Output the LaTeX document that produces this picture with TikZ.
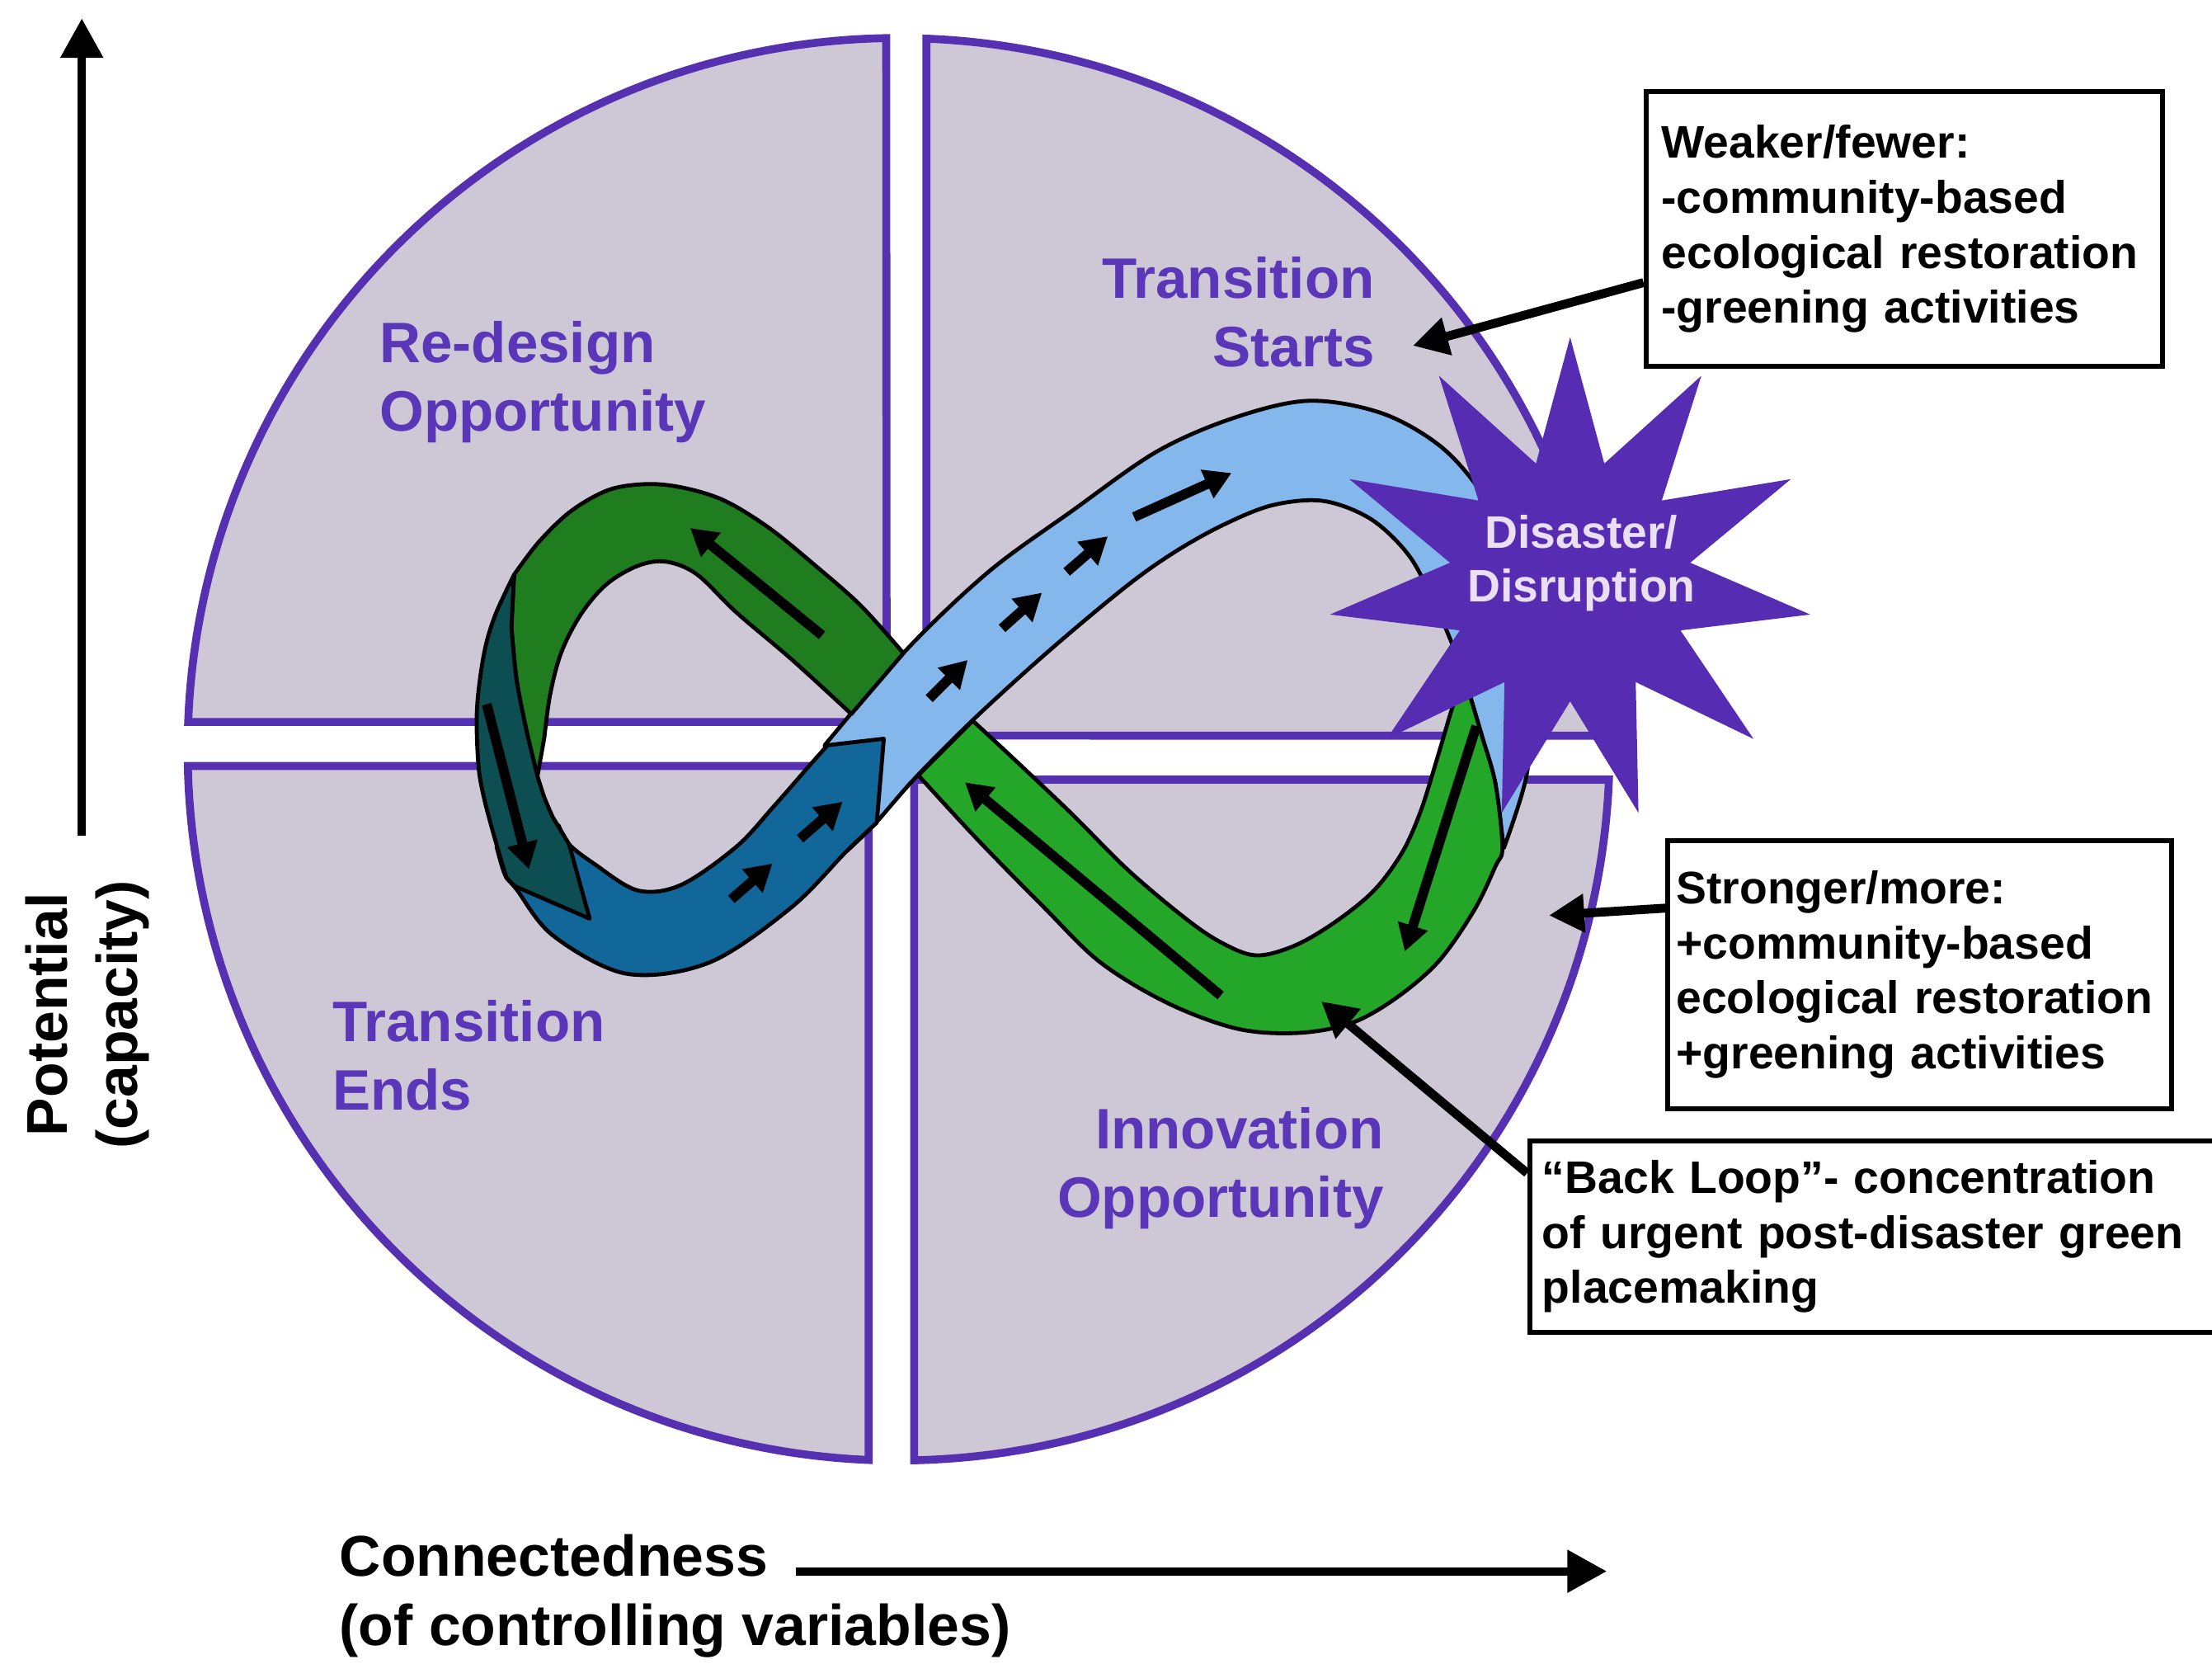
\documentclass[tikz,border=0pt]{standalone}
\usepackage{fontspec}
\setmainfont{Liberation Sans}
\usepackage{tikz}
\usetikzlibrary{arrows.meta}
\usetikzlibrary{shapes.geometric}

\definecolor{quadfill}{HTML}{CEC7D6}
\definecolor{quadline}{HTML}{5530B0}
\definecolor{labelpurple}{HTML}{5A36B8}
\definecolor{starpurple}{HTML}{562CB2}
\definecolor{startext}{HTML}{EADFF5}
\definecolor{darkgreen}{HTML}{1F7D1F}
\definecolor{brightgreen}{HTML}{24A628}
\definecolor{tealband}{HTML}{0C4E52}
\definecolor{midblue}{HTML}{11669A}
\definecolor{lightblue}{HTML}{84B7EC}

\begin{document}
\begin{tikzpicture}[x=0.1mm, y=-0.1mm,
		quadrant/.style={draw=quadline, fill=quadfill, line width=1.6pt},
		quadlabel/.style={text=labelpurple, font=\fontsize{11.5}{13.8}\selectfont\bfseries, inner sep=0pt},
		band/.style={draw=black, line width=0.8pt, line join=round},
		flowarrow/.style={line width=0.7mm, -{Triangle[length=1.9mm, width=2.1mm]}},
		boxtext/.style={draw, line width=1pt, font=\fontsize{9.2}{11.1}\selectfont\bfseries, align=left, anchor=north west, inner ysep=0pt},
		callout/.style={line width=1.8pt, -{Triangle[length=2.5mm, width=2.6mm]}},
		axisarrow/.style={line width=1.7pt, -{Triangle[length=2.8mm, width=2.9mm]}},
		axislabel/.style={font=\fontsize{11.6}{14}\selectfont\bfseries, inner sep=0pt}]
		\useasboundingbox (0,0) rectangle (1568,1179);
		\clip (0,0) rectangle (1568,1179);
		\fill[white] (0,0) rectangle (1568,1179);

		% Quadrants:
		\draw[quadrant] (628.5,511.6) -- (133.4,511.6) arc[start angle=-177.8, end angle=-91.0, radius=504] -- cycle;
		\draw[quadrant] (656.7,521.3) -- (656.7,27.4) arc[start angle=-87.76, end angle=-1.10, radius=504] -- cycle;
		\draw[quadrant] (648,552.5) -- (1140.5,552.5) arc[start angle=2.45, end angle=88.75, radius=504] -- cycle;
		\draw[quadrant] (615.8,542.8) -- (615.8,1034.6) arc[start angle=92.41, end angle=178.66, radius=504] -- cycle;

		\node[quadlabel, align=left, anchor=west] (redesign) at (268.5,271) {Re-design\\Opportunity};
		\node[quadlabel, align=right, anchor=east] (starts) at (975,221) {Transition\\Starts};
		\node[quadlabel, align=left, anchor=west] (ends) at (235,748) {Transition\\Ends};
		\node[quadlabel, align=right, anchor=east] (innovation) at (981.5,828) {Innovation\\Opportunity};

		% Loop band:
		\draw[band, fill=lightblue] plot[smooth, tension=0.55] coordinates {(584.6,528.1) (643,460) (701,405) (760,362) (820,320) (875,296) (928,284) (980,293) (1022,317) (1052,352) (1072,395) (1082,445) (1085,500) (1082,550) (1066,601)}
			-- plot[smooth, tension=0.55] coordinates {(1060,555) (1050,520) (1040,487) (1030,458) (1017,428) (999,394) (972,368) (938,355) (902,358) (867,372) (833,391) (799,415) (745,460) (692,508) (649,551) (620,584) (600,603.3)} -- cycle;
		\draw[band, fill=brightgreen] plot[smooth, tension=0.55] coordinates {(651,549.4) (692,594) (740,643) (780,682) (828,711) (877,729) (920,732) (958,725) (990,707) (1020,681) (1045,645) (1060,614) (1065,600) (1060,555) (1050,520) (1040,486)}
			-- plot[smooth, tension=0.55] coordinates {(1033,492) (1029,503) (1018,540) (1007,575) (994,604) (974,631) (947,653) (918,670) (890,677) (864,667) (838,649) (799,616) (760,577) (721,540) (689.6,510.8)} -- cycle;
		\draw[band, fill=darkgreen] plot[smooth, tension=0.55] coordinates {(640.4,462.9) (610,429) (577,400) (545,374) (514,355) (486,346) (460,343) (432,347) (405,362) (382,384) (364.4,407.3)}
			-- plot[smooth, tension=0.55] coordinates {(362.5,444.3) (366.4,483.3) (374.2,522.3) (381,550)}
			-- plot[smooth, tension=0.55] coordinates {(385.9,522.3) (390,492) (398,462) (412,435) (430,414) (452,401) (472,398) (494,407) (522,434) (562,468) (603.5,506)} -- cycle;
		\draw[band, fill=midblue] plot[smooth, tension=0.55] coordinates {(352,600) (358,620) (366,630) (392,663) (444,690) (503,682) (561,643) (600,603.3) (621.5,583)}
			-- (626.5,523.5) -- (586.6,528.1)
			-- plot[smooth, tension=0.55] coordinates {(571,545.7) (548,572) (522,600) (483,627) (452,631) (421,612) (403.4,598.3) (396,585)} -- cycle;
		\draw[band, fill=tealband] plot[smooth, tension=0.55] coordinates {(364.4,407.3) (350.8,436.5) (343,463.8) (338.1,502.8) (339.1,541.8) (343,565) (350.8,594.4) (359,622)}
			-- (365,628) -- (418,651) -- (403.4,598.3)
			-- plot[smooth, tension=0.55] coordinates {(391.7,578.8) (385.9,565.2) (381,550)}
			-- plot[smooth, tension=0.55] coordinates {(374.2,522.3) (366.4,483.3) (362.5,444.3)} -- cycle;

		% Flow arrows:
		\draw[flowarrow] (582.7,450.2) -- (489.2,374.2);
		\draw[flowarrow] (345,499) -- (375,616);
		\draw[flowarrow] (518.4,637.3) -- (547.6,611.9);
		\draw[flowarrow] (567.1,594.4) -- (597.3,568.1);
		\draw[flowarrow] (658.7,495) -- (686,467.7);
		\draw[flowarrow] (710.3,445.3) -- (738.6,420);
		\draw[flowarrow] (756.1,405.3) -- (785.3,380);
		\draw[flowarrow] (803.9,366.4) -- (873,335.2);
		\draw[flowarrow] (865.3,705.5) -- (684,554.4);
		\draw[flowarrow] (1046.5,514.5) -- (995.8,674.3);

		% Disaster star:
		\node[star, star points=11, star point ratio=2, minimum size=34.4mm, inner sep=0pt, fill=starpurple] (disaster) at (1113,411) {};
		\node[text=startext, font=\fontsize{9.2}{10.9}\selectfont\bfseries, align=center, inner sep=0pt] (disastertext) at (1121,399) {Disaster/\\Disruption};

		% Boxes and arrows:
		\node[boxtext, inner xsep=1.1mm, text width=34.4mm, minimum height=19.5mm] (weaker) at (1165,63) {Weaker/fewer:\\-community-based\\ecological restoration\\-greening activities};
		\node[boxtext, inner xsep=0.6mm, text width=34.5mm, minimum height=19mm] (stronger) at (1180.5,593.8) {Stronger/more:\\+community-based\\ecological restoration\\+greening activities};
		\node[boxtext, inner xsep=0.9mm, text width=50mm, minimum height=13.6mm] (backloop) at (1082.5,806.6) {“Back Loop”- concentration\\of urgent post-disaster green\\placemaking};
		\coordinate (weakertip) at (1001.5,245);
		\coordinate (strongertip) at (1098,648.7);
		\coordinate (backlooptip) at (936.5,709.6);
		\draw[callout] ([yshift=-3.8mm]weaker.west) -- (weakertip);
		\draw[callout] ([yshift=4.7mm]stronger.west) -- (strongertip);
		\draw[callout] ([yshift=4.5mm]backloop.west) -- (backlooptip);

		% Axes:
		\coordinate (ybottom) at (58,592);
		\coordinate (ytop) at (58,13);
		\draw[axisarrow] (ybottom) -- (ytop);
		\node[axislabel, rotate=90, align=center] (potential) at (62,719) {Potential\\(capacity)};
		\node[axislabel, align=left, anchor=west] (connected) at (240,1131) {Connectedness\\(of controlling variables)};
		\coordinate (xleft) at (564,1113.5);
		\coordinate (xright) at (1139,1113.5);
		\draw[axisarrow] (xleft) -- (xright);
	\end{tikzpicture}
\end{document}
